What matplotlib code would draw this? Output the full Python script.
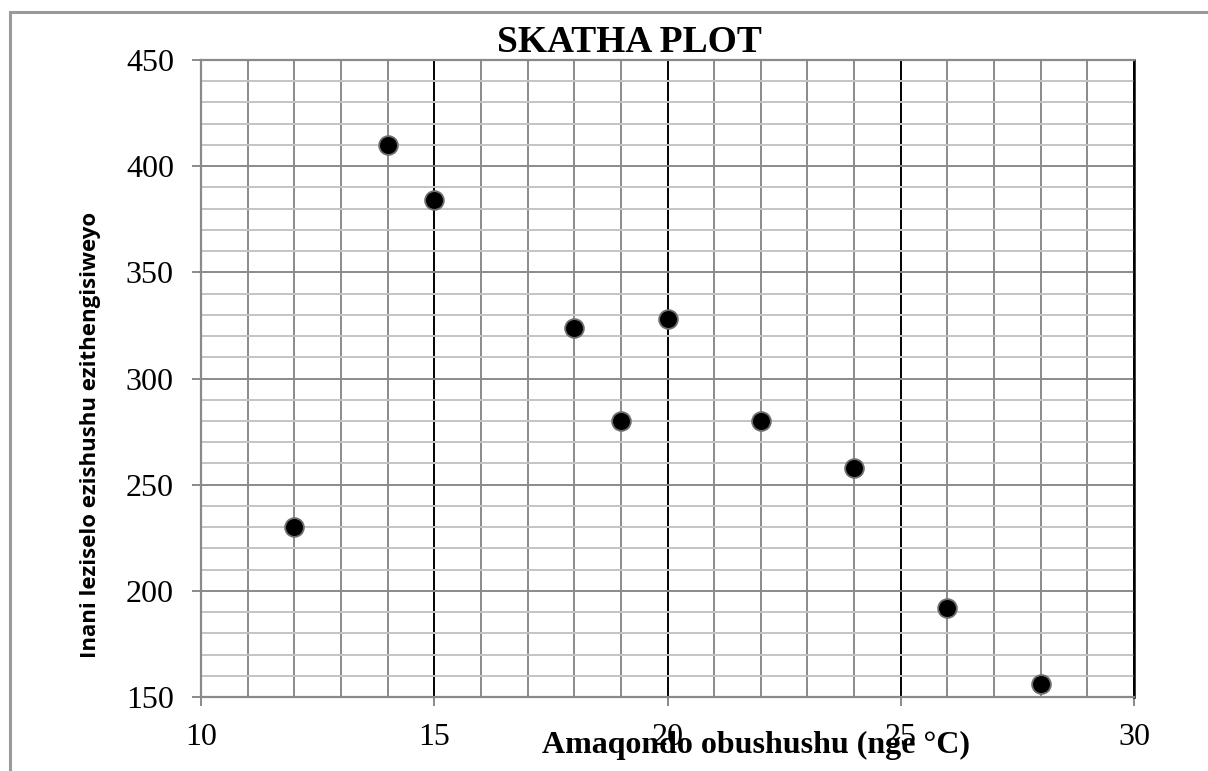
import matplotlib
matplotlib.use("Agg")
import matplotlib.pyplot as plt
from matplotlib.patches import Rectangle

# Data
temperature = [12, 14, 15, 18, 19, 20, 22, 24, 26, 28]
sales = [230, 410, 384, 324, 280, 328, 280, 258, 192, 156]
x_ticks = [10, 15, 20, 25, 30]
y_ticks = [150, 200, 250, 300, 350, 400, 450]
title = "SKATHA PLOT"
x_label = "Amaqondo obushushu (nge °C)"
y_label = "Inani leziselo ezishushu ezithengisiweyo"

W, H = 1208, 771
fig = plt.figure(figsize=(W / 100, H / 100), dpi=100)
fig.patch.set_facecolor("white")

# outer border (left + top visible)
fig.patches.append(Rectangle((10 / W, -0.2), 1.5, (H - 12) / H + 0.2,
                             transform=fig.transFigure, fill=False,
                             edgecolor="#9a9a9a", linewidth=2.2))

L, R, T, B = 201, 1134, 60, 697
ax = fig.add_axes([L / W, 1 - B / H, (R - L) / W, (B - T) / H])
ax.set_xlim(10, 30)
ax.set_ylim(150, 450)
ax.set_axisbelow(True)

ax.set_xticks(x_ticks)
ax.set_xticks(range(10, 31), minor=True)
ax.set_yticks(y_ticks)
ax.set_yticks(range(150, 451, 10), minor=True)

ax.grid(True, axis="y", which="minor", color="#c4c4c4", linewidth=1.4)
ax.grid(True, axis="y", which="major", color="#8a8a8a", linewidth=1.4)
ax.grid(True, axis="x", which="minor", color="#8a8a8a", linewidth=1.4)
ax.grid(True, axis="x", which="major", color="black", linewidth=1.4)

for s in ["left", "bottom", "top"]:
    ax.spines[s].set_color("#8a8a8a")
    ax.spines[s].set_linewidth(1.6)
ax.spines["right"].set_color("black")
ax.spines["right"].set_linewidth(1.8)

ax.tick_params(which="minor", length=0)
ax.tick_params(which="major", length=6.5, width=1.4, color="#8a8a8a",
               direction="out")
ax.tick_params(axis="x", which="major", pad=12)
ax.tick_params(axis="y", which="major", pad=13)
for lab in ax.get_xticklabels() + ax.get_yticklabels():
    lab.set_fontfamily("Liberation Serif")
    lab.set_fontsize(23)

ax.plot(temperature, sales, linestyle="none", marker="o", markersize=13.5,
        markerfacecolor="black", markeredgecolor="#6e6e6e",
        markeredgewidth=1.3, zorder=5, clip_on=False)

fig.text(629 / W, 1 - 52 / H, title, ha="center", va="baseline",
         fontfamily="Liberation Serif", fontweight="bold", fontsize=27)
fig.text(756 / W, 1 - 753 / H, x_label, ha="center", va="baseline",
         fontfamily="Liberation Serif", fontweight="bold", fontsize=23)
fig.text(91 / W, 1 - 435 / H, y_label, ha="center", va="center",
         rotation=90, fontfamily="Open Sans", fontweight="bold",
         fontsize=16)

fig.savefig("out.png", dpi=100)
